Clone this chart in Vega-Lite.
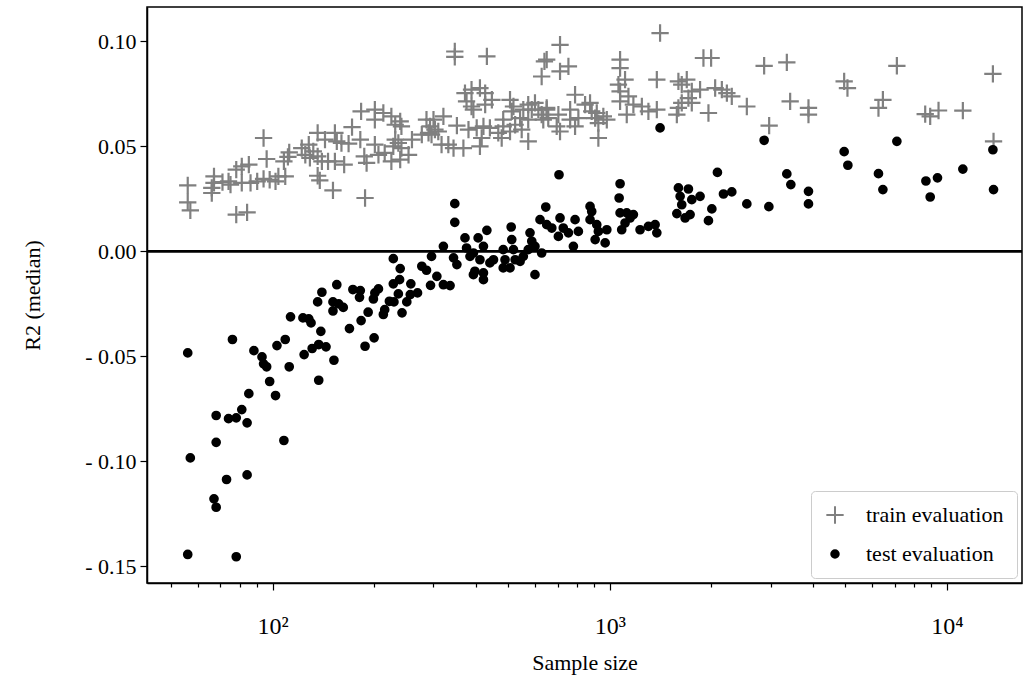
{
  "$schema": "https://vega.github.io/schema/vega-lite/v6.json",
  "width": 875,
  "height": 576,
  "autosize": {"type": "none"},
  "padding": {"left": 147, "top": 7, "right": 2, "bottom": 96},
  "background": "white",
  "config": {
    "view": {"stroke": "black", "strokeWidth": 1.5},
    "font": "Liberation Serif",
    "axis": {
      "grid": false,
      "domainColor": "black",
      "domainWidth": 1.5,
      "tickColor": "black",
      "tickWidth": 1.2,
      "tickSize": 7,
      "labelFont": "Liberation Serif",
      "labelFontSize": 22,
      "labelColor": "black",
      "titleFont": "Liberation Serif",
      "titleFontSize": 22,
      "titleFontWeight": "normal",
      "titleColor": "black"
    },
    "legend": {
      "orient": "bottom-right",
      "offset": 5,
      "title": null,
      "labelFont": "Liberation Serif",
      "labelFontSize": 22,
      "labelColor": "black",
      "fillColor": "white",
      "strokeColor": "#cccccc",
      "cornerRadius": 4,
      "padding": 13,
      "rowPadding": 15,
      "labelOffset": 20,
      "symbolStrokeWidth": 2
    }
  },
  "datasets": {
    "pts": [
      {"series": "train evaluation", "n": 56, "r2": 0.0314},
      {"series": "train evaluation", "n": 56, "r2": 0.0233},
      {"series": "train evaluation", "n": 57, "r2": 0.0195},
      {"series": "train evaluation", "n": 67, "r2": 0.0357},
      {"series": "train evaluation", "n": 67, "r2": 0.0326},
      {"series": "train evaluation", "n": 66, "r2": 0.0302},
      {"series": "train evaluation", "n": 66, "r2": 0.0278},
      {"series": "train evaluation", "n": 71, "r2": 0.0330},
      {"series": "train evaluation", "n": 74, "r2": 0.0333},
      {"series": "train evaluation", "n": 75, "r2": 0.0318},
      {"series": "train evaluation", "n": 78, "r2": 0.0389},
      {"series": "train evaluation", "n": 81, "r2": 0.0405},
      {"series": "train evaluation", "n": 85, "r2": 0.0413},
      {"series": "train evaluation", "n": 81, "r2": 0.0326},
      {"series": "train evaluation", "n": 86, "r2": 0.0326},
      {"series": "train evaluation", "n": 90, "r2": 0.0333},
      {"series": "train evaluation", "n": 94, "r2": 0.0345},
      {"series": "train evaluation", "n": 98, "r2": 0.0341},
      {"series": "train evaluation", "n": 102, "r2": 0.0333},
      {"series": "train evaluation", "n": 104, "r2": 0.0357},
      {"series": "train evaluation", "n": 109, "r2": 0.0357},
      {"series": "train evaluation", "n": 94, "r2": 0.0540},
      {"series": "train evaluation", "n": 96, "r2": 0.0440},
      {"series": "train evaluation", "n": 78, "r2": 0.0175},
      {"series": "train evaluation", "n": 84, "r2": 0.0186},
      {"series": "train evaluation", "n": 108, "r2": 0.0429},
      {"series": "train evaluation", "n": 112, "r2": 0.0471},
      {"series": "train evaluation", "n": 111, "r2": 0.0450},
      {"series": "train evaluation", "n": 122, "r2": 0.0492},
      {"series": "train evaluation", "n": 125, "r2": 0.0460},
      {"series": "train evaluation", "n": 128, "r2": 0.0508},
      {"series": "train evaluation", "n": 129, "r2": 0.0445},
      {"series": "train evaluation", "n": 132, "r2": 0.0476},
      {"series": "train evaluation", "n": 136, "r2": 0.0564},
      {"series": "train evaluation", "n": 136, "r2": 0.0452},
      {"series": "train evaluation", "n": 140, "r2": 0.0429},
      {"series": "train evaluation", "n": 143, "r2": 0.0532},
      {"series": "train evaluation", "n": 146, "r2": 0.0429},
      {"series": "train evaluation", "n": 136, "r2": 0.0360},
      {"series": "train evaluation", "n": 138, "r2": 0.0338},
      {"series": "train evaluation", "n": 151, "r2": 0.0290},
      {"series": "train evaluation", "n": 153, "r2": 0.0564},
      {"series": "train evaluation", "n": 155, "r2": 0.0524},
      {"series": "train evaluation", "n": 160, "r2": 0.0516},
      {"series": "train evaluation", "n": 153, "r2": 0.0429},
      {"series": "train evaluation", "n": 163, "r2": 0.0413},
      {"series": "train evaluation", "n": 172, "r2": 0.0592},
      {"series": "train evaluation", "n": 168, "r2": 0.0513},
      {"series": "train evaluation", "n": 182, "r2": 0.0532},
      {"series": "train evaluation", "n": 183, "r2": 0.0667},
      {"series": "train evaluation", "n": 187, "r2": 0.0452},
      {"series": "train evaluation", "n": 190, "r2": 0.0421},
      {"series": "train evaluation", "n": 188, "r2": 0.0254},
      {"series": "train evaluation", "n": 201, "r2": 0.0675},
      {"series": "train evaluation", "n": 201, "r2": 0.0627},
      {"series": "train evaluation", "n": 213, "r2": 0.0659},
      {"series": "train evaluation", "n": 201, "r2": 0.0508},
      {"series": "train evaluation", "n": 206, "r2": 0.0460},
      {"series": "train evaluation", "n": 215, "r2": 0.0469},
      {"series": "train evaluation", "n": 225, "r2": 0.0643},
      {"series": "train evaluation", "n": 231, "r2": 0.0603},
      {"series": "train evaluation", "n": 225, "r2": 0.0429},
      {"series": "train evaluation", "n": 228, "r2": 0.0500},
      {"series": "train evaluation", "n": 231, "r2": 0.0532},
      {"series": "train evaluation", "n": 347, "r2": 0.0952},
      {"series": "train evaluation", "n": 347, "r2": 0.0926},
      {"series": "train evaluation", "n": 432, "r2": 0.0929},
      {"series": "train evaluation", "n": 628, "r2": 0.0833},
      {"series": "train evaluation", "n": 640, "r2": 0.0905},
      {"series": "train evaluation", "n": 239, "r2": 0.0619},
      {"series": "train evaluation", "n": 241, "r2": 0.0595},
      {"series": "train evaluation", "n": 236, "r2": 0.0516},
      {"series": "train evaluation", "n": 241, "r2": 0.0492},
      {"series": "train evaluation", "n": 239, "r2": 0.0437},
      {"series": "train evaluation", "n": 253, "r2": 0.0460},
      {"series": "train evaluation", "n": 259, "r2": 0.0532},
      {"series": "train evaluation", "n": 277, "r2": 0.0556},
      {"series": "train evaluation", "n": 286, "r2": 0.0627},
      {"series": "train evaluation", "n": 293, "r2": 0.0595},
      {"series": "train evaluation", "n": 300, "r2": 0.0627},
      {"series": "train evaluation", "n": 303, "r2": 0.0580},
      {"series": "train evaluation", "n": 290, "r2": 0.0564},
      {"series": "train evaluation", "n": 296, "r2": 0.0556},
      {"series": "train evaluation", "n": 321, "r2": 0.0643},
      {"series": "train evaluation", "n": 310, "r2": 0.0571},
      {"series": "train evaluation", "n": 317, "r2": 0.0508},
      {"series": "train evaluation", "n": 332, "r2": 0.0508},
      {"series": "train evaluation", "n": 344, "r2": 0.0492},
      {"series": "train evaluation", "n": 368, "r2": 0.0492},
      {"series": "train evaluation", "n": 352, "r2": 0.0599},
      {"series": "train evaluation", "n": 372, "r2": 0.0754},
      {"series": "train evaluation", "n": 389, "r2": 0.0770},
      {"series": "train evaluation", "n": 412, "r2": 0.0778},
      {"series": "train evaluation", "n": 427, "r2": 0.0754},
      {"series": "train evaluation", "n": 447, "r2": 0.0722},
      {"series": "train evaluation", "n": 376, "r2": 0.0714},
      {"series": "train evaluation", "n": 389, "r2": 0.0690},
      {"series": "train evaluation", "n": 394, "r2": 0.0675},
      {"series": "train evaluation", "n": 427, "r2": 0.0699},
      {"series": "train evaluation", "n": 381, "r2": 0.0580},
      {"series": "train evaluation", "n": 403, "r2": 0.0588},
      {"series": "train evaluation", "n": 422, "r2": 0.0595},
      {"series": "train evaluation", "n": 441, "r2": 0.0588},
      {"series": "train evaluation", "n": 417, "r2": 0.0540},
      {"series": "train evaluation", "n": 412, "r2": 0.0500},
      {"series": "train evaluation", "n": 506, "r2": 0.0722},
      {"series": "train evaluation", "n": 518, "r2": 0.0690},
      {"series": "train evaluation", "n": 512, "r2": 0.0667},
      {"series": "train evaluation", "n": 483, "r2": 0.0627},
      {"series": "train evaluation", "n": 483, "r2": 0.0595},
      {"series": "train evaluation", "n": 467, "r2": 0.0564},
      {"series": "train evaluation", "n": 478, "r2": 0.0540},
      {"series": "train evaluation", "n": 506, "r2": 0.0571},
      {"series": "train evaluation", "n": 524, "r2": 0.0603},
      {"series": "train evaluation", "n": 542, "r2": 0.0635},
      {"series": "train evaluation", "n": 554, "r2": 0.0675},
      {"series": "train evaluation", "n": 573, "r2": 0.0699},
      {"series": "train evaluation", "n": 587, "r2": 0.0675},
      {"series": "train evaluation", "n": 600, "r2": 0.0707},
      {"series": "train evaluation", "n": 614, "r2": 0.0675},
      {"series": "train evaluation", "n": 628, "r2": 0.0651},
      {"series": "train evaluation", "n": 573, "r2": 0.0627},
      {"series": "train evaluation", "n": 548, "r2": 0.0580},
      {"series": "train evaluation", "n": 573, "r2": 0.0524},
      {"series": "train evaluation", "n": 650, "r2": 0.0675},
      {"series": "train evaluation", "n": 635, "r2": 0.0627},
      {"series": "train evaluation", "n": 1410, "r2": 0.1040},
      {"series": "train evaluation", "n": 712, "r2": 0.0984},
      {"series": "train evaluation", "n": 650, "r2": 0.0913},
      {"series": "train evaluation", "n": 754, "r2": 0.0881},
      {"series": "train evaluation", "n": 712, "r2": 0.0857},
      {"series": "train evaluation", "n": 1073, "r2": 0.0913},
      {"series": "train evaluation", "n": 1073, "r2": 0.0873},
      {"series": "train evaluation", "n": 1110, "r2": 0.0818},
      {"series": "train evaluation", "n": 1061, "r2": 0.0794},
      {"series": "train evaluation", "n": 1073, "r2": 0.0762},
      {"series": "train evaluation", "n": 1073, "r2": 0.0714},
      {"series": "train evaluation", "n": 1136, "r2": 0.0738},
      {"series": "train evaluation", "n": 1175, "r2": 0.0699},
      {"series": "train evaluation", "n": 1123, "r2": 0.0651},
      {"series": "train evaluation", "n": 1245, "r2": 0.0690},
      {"series": "train evaluation", "n": 1302, "r2": 0.0667},
      {"series": "train evaluation", "n": 1379, "r2": 0.0675},
      {"series": "train evaluation", "n": 1379, "r2": 0.0818},
      {"series": "train evaluation", "n": 1598, "r2": 0.0810},
      {"series": "train evaluation", "n": 1635, "r2": 0.0794},
      {"series": "train evaluation", "n": 1692, "r2": 0.0818},
      {"series": "train evaluation", "n": 1751, "r2": 0.0762},
      {"series": "train evaluation", "n": 1853, "r2": 0.0770},
      {"series": "train evaluation", "n": 1711, "r2": 0.0730},
      {"series": "train evaluation", "n": 1598, "r2": 0.0683},
      {"series": "train evaluation", "n": 1581, "r2": 0.0651},
      {"series": "train evaluation", "n": 1635, "r2": 0.0707},
      {"series": "train evaluation", "n": 1751, "r2": 0.0707},
      {"series": "train evaluation", "n": 789, "r2": 0.0746},
      {"series": "train evaluation", "n": 650, "r2": 0.0683},
      {"series": "train evaluation", "n": 657, "r2": 0.0635},
      {"series": "train evaluation", "n": 704, "r2": 0.0651},
      {"series": "train evaluation", "n": 696, "r2": 0.0595},
      {"series": "train evaluation", "n": 712, "r2": 0.0571},
      {"series": "train evaluation", "n": 763, "r2": 0.0675},
      {"series": "train evaluation", "n": 763, "r2": 0.0627},
      {"series": "train evaluation", "n": 789, "r2": 0.0595},
      {"series": "train evaluation", "n": 807, "r2": 0.0635},
      {"series": "train evaluation", "n": 845, "r2": 0.0699},
      {"series": "train evaluation", "n": 874, "r2": 0.0707},
      {"series": "train evaluation", "n": 884, "r2": 0.0667},
      {"series": "train evaluation", "n": 915, "r2": 0.0659},
      {"series": "train evaluation", "n": 905, "r2": 0.0635},
      {"series": "train evaluation", "n": 925, "r2": 0.0611},
      {"series": "train evaluation", "n": 957, "r2": 0.0643},
      {"series": "train evaluation", "n": 980, "r2": 0.0627},
      {"series": "train evaluation", "n": 925, "r2": 0.0540},
      {"series": "train evaluation", "n": 1998, "r2": 0.0921},
      {"series": "train evaluation", "n": 1896, "r2": 0.0921},
      {"series": "train evaluation", "n": 2054, "r2": 0.0778},
      {"series": "train evaluation", "n": 2150, "r2": 0.0770},
      {"series": "train evaluation", "n": 2225, "r2": 0.0754},
      {"series": "train evaluation", "n": 2301, "r2": 0.0738},
      {"series": "train evaluation", "n": 1962, "r2": 0.0659},
      {"series": "train evaluation", "n": 2550, "r2": 0.0690},
      {"series": "train evaluation", "n": 2870, "r2": 0.0884},
      {"series": "train evaluation", "n": 3351, "r2": 0.0900},
      {"series": "train evaluation", "n": 3428, "r2": 0.0714},
      {"series": "train evaluation", "n": 2970, "r2": 0.0599},
      {"series": "train evaluation", "n": 3885, "r2": 0.0683},
      {"series": "train evaluation", "n": 3885, "r2": 0.0651},
      {"series": "train evaluation", "n": 4957, "r2": 0.0810},
      {"series": "train evaluation", "n": 5070, "r2": 0.0778},
      {"series": "train evaluation", "n": 7105, "r2": 0.0884},
      {"series": "train evaluation", "n": 6458, "r2": 0.0722},
      {"series": "train evaluation", "n": 6266, "r2": 0.0683},
      {"series": "train evaluation", "n": 8622, "r2": 0.0654},
      {"series": "train evaluation", "n": 8921, "r2": 0.0643},
      {"series": "train evaluation", "n": 9444, "r2": 0.0671},
      {"series": "train evaluation", "n": 11150, "r2": 0.0670},
      {"series": "train evaluation", "n": 13690, "r2": 0.0845},
      {"series": "train evaluation", "n": 13750, "r2": 0.0524},
      {"series": "test evaluation", "n": 56, "r2": -0.0484},
      {"series": "test evaluation", "n": 57, "r2": -0.0984},
      {"series": "test evaluation", "n": 56, "r2": -0.1444},
      {"series": "test evaluation", "n": 76, "r2": -0.0420},
      {"series": "test evaluation", "n": 68, "r2": -0.0782},
      {"series": "test evaluation", "n": 68, "r2": -0.0910},
      {"series": "test evaluation", "n": 67, "r2": -0.1179},
      {"series": "test evaluation", "n": 68, "r2": -0.1219},
      {"series": "test evaluation", "n": 73, "r2": -0.1087},
      {"series": "test evaluation", "n": 78, "r2": -0.1455},
      {"series": "test evaluation", "n": 74, "r2": -0.0797},
      {"series": "test evaluation", "n": 78, "r2": -0.0793},
      {"series": "test evaluation", "n": 81, "r2": -0.0754},
      {"series": "test evaluation", "n": 84, "r2": -0.0817},
      {"series": "test evaluation", "n": 85, "r2": -0.0678},
      {"series": "test evaluation", "n": 84, "r2": -0.1065},
      {"series": "test evaluation", "n": 88, "r2": -0.0473},
      {"series": "test evaluation", "n": 93, "r2": -0.0503},
      {"series": "test evaluation", "n": 94, "r2": -0.0536},
      {"series": "test evaluation", "n": 96, "r2": -0.0550},
      {"series": "test evaluation", "n": 98, "r2": -0.0620},
      {"series": "test evaluation", "n": 102, "r2": -0.0687},
      {"series": "test evaluation", "n": 108, "r2": -0.0901},
      {"series": "test evaluation", "n": 103, "r2": -0.0449},
      {"series": "test evaluation", "n": 109, "r2": -0.0420},
      {"series": "test evaluation", "n": 112, "r2": -0.0550},
      {"series": "test evaluation", "n": 113, "r2": -0.0312},
      {"series": "test evaluation", "n": 123, "r2": -0.0317},
      {"series": "test evaluation", "n": 128, "r2": -0.0322},
      {"series": "test evaluation", "n": 130, "r2": -0.0341},
      {"series": "test evaluation", "n": 139, "r2": -0.0381},
      {"series": "test evaluation", "n": 124, "r2": -0.0492},
      {"series": "test evaluation", "n": 131, "r2": -0.0463},
      {"series": "test evaluation", "n": 137, "r2": -0.0444},
      {"series": "test evaluation", "n": 144, "r2": -0.0455},
      {"series": "test evaluation", "n": 152, "r2": -0.0519},
      {"series": "test evaluation", "n": 137, "r2": -0.0614},
      {"series": "test evaluation", "n": 136, "r2": -0.0241},
      {"series": "test evaluation", "n": 140, "r2": -0.0195},
      {"series": "test evaluation", "n": 155, "r2": -0.0159},
      {"series": "test evaluation", "n": 151, "r2": -0.0241},
      {"series": "test evaluation", "n": 157, "r2": -0.0250},
      {"series": "test evaluation", "n": 162, "r2": -0.0267},
      {"series": "test evaluation", "n": 151, "r2": -0.0284},
      {"series": "test evaluation", "n": 169, "r2": -0.0368},
      {"series": "test evaluation", "n": 173, "r2": -0.0182},
      {"series": "test evaluation", "n": 182, "r2": -0.0187},
      {"series": "test evaluation", "n": 181, "r2": -0.0219},
      {"series": "test evaluation", "n": 183, "r2": -0.0330},
      {"series": "test evaluation", "n": 192, "r2": -0.0290},
      {"series": "test evaluation", "n": 188, "r2": -0.0452},
      {"series": "test evaluation", "n": 200, "r2": -0.0412},
      {"series": "test evaluation", "n": 199, "r2": -0.0227},
      {"series": "test evaluation", "n": 201, "r2": -0.0198},
      {"series": "test evaluation", "n": 206, "r2": -0.0179},
      {"series": "test evaluation", "n": 213, "r2": -0.0301},
      {"series": "test evaluation", "n": 215, "r2": -0.0278},
      {"series": "test evaluation", "n": 222, "r2": -0.0238},
      {"series": "test evaluation", "n": 228, "r2": -0.0035},
      {"series": "test evaluation", "n": 239, "r2": -0.0082},
      {"series": "test evaluation", "n": 238, "r2": -0.0135},
      {"series": "test evaluation", "n": 228, "r2": -0.0155},
      {"series": "test evaluation", "n": 236, "r2": -0.0203},
      {"series": "test evaluation", "n": 229, "r2": -0.0241},
      {"series": "test evaluation", "n": 242, "r2": -0.0293},
      {"series": "test evaluation", "n": 250, "r2": -0.0241},
      {"series": "test evaluation", "n": 256, "r2": -0.0206},
      {"series": "test evaluation", "n": 257, "r2": -0.0155},
      {"series": "test evaluation", "n": 269, "r2": -0.0198},
      {"series": "test evaluation", "n": 277, "r2": -0.0071},
      {"series": "test evaluation", "n": 286, "r2": -0.0090},
      {"series": "test evaluation", "n": 296, "r2": -0.0024},
      {"series": "test evaluation", "n": 294, "r2": -0.0162},
      {"series": "test evaluation", "n": 307, "r2": -0.0119},
      {"series": "test evaluation", "n": 321, "r2": 0.0024},
      {"series": "test evaluation", "n": 321, "r2": -0.0159},
      {"series": "test evaluation", "n": 336, "r2": -0.0163},
      {"series": "test evaluation", "n": 344, "r2": -0.0031},
      {"series": "test evaluation", "n": 352, "r2": -0.0063},
      {"series": "test evaluation", "n": 347, "r2": 0.0227},
      {"series": "test evaluation", "n": 347, "r2": 0.0138},
      {"series": "test evaluation", "n": 372, "r2": 0.0064},
      {"series": "test evaluation", "n": 376, "r2": 0.0016},
      {"series": "test evaluation", "n": 385, "r2": -0.0024},
      {"series": "test evaluation", "n": 394, "r2": -0.0008},
      {"series": "test evaluation", "n": 398, "r2": -0.0095},
      {"series": "test evaluation", "n": 394, "r2": -0.0111},
      {"series": "test evaluation", "n": 422, "r2": 0.0024},
      {"series": "test evaluation", "n": 407, "r2": 0.0064},
      {"series": "test evaluation", "n": 432, "r2": 0.0100},
      {"series": "test evaluation", "n": 412, "r2": -0.0040},
      {"series": "test evaluation", "n": 422, "r2": -0.0103},
      {"series": "test evaluation", "n": 422, "r2": -0.0135},
      {"series": "test evaluation", "n": 441, "r2": -0.0055},
      {"series": "test evaluation", "n": 452, "r2": -0.0040},
      {"series": "test evaluation", "n": 483, "r2": 0.0008},
      {"series": "test evaluation", "n": 483, "r2": -0.0079},
      {"series": "test evaluation", "n": 489, "r2": -0.0040},
      {"series": "test evaluation", "n": 510, "r2": 0.0116},
      {"series": "test evaluation", "n": 512, "r2": 0.0056},
      {"series": "test evaluation", "n": 518, "r2": 0.0008},
      {"series": "test evaluation", "n": 524, "r2": -0.0040},
      {"series": "test evaluation", "n": 506, "r2": -0.0079},
      {"series": "test evaluation", "n": 542, "r2": -0.0048},
      {"series": "test evaluation", "n": 554, "r2": -0.0024},
      {"series": "test evaluation", "n": 573, "r2": 0.0008},
      {"series": "test evaluation", "n": 580, "r2": 0.0088},
      {"series": "test evaluation", "n": 587, "r2": 0.0048},
      {"series": "test evaluation", "n": 600, "r2": 0.0024},
      {"series": "test evaluation", "n": 600, "r2": -0.0111},
      {"series": "test evaluation", "n": 621, "r2": 0.0151},
      {"series": "test evaluation", "n": 628, "r2": -0.0008},
      {"series": "test evaluation", "n": 646, "r2": 0.0211},
      {"series": "test evaluation", "n": 650, "r2": 0.0127},
      {"series": "test evaluation", "n": 1410, "r2": 0.0588},
      {"series": "test evaluation", "n": 707, "r2": 0.0365},
      {"series": "test evaluation", "n": 1073, "r2": 0.0322},
      {"series": "test evaluation", "n": 1066, "r2": 0.0254},
      {"series": "test evaluation", "n": 1073, "r2": 0.0183},
      {"series": "test evaluation", "n": 1085, "r2": 0.0103},
      {"series": "test evaluation", "n": 1123, "r2": 0.0183},
      {"series": "test evaluation", "n": 1149, "r2": 0.0159},
      {"series": "test evaluation", "n": 1175, "r2": 0.0175},
      {"series": "test evaluation", "n": 1110, "r2": 0.0135},
      {"series": "test evaluation", "n": 673, "r2": 0.0111},
      {"series": "test evaluation", "n": 712, "r2": 0.0159},
      {"series": "test evaluation", "n": 704, "r2": 0.0071},
      {"series": "test evaluation", "n": 728, "r2": 0.0111},
      {"series": "test evaluation", "n": 754, "r2": 0.0088},
      {"series": "test evaluation", "n": 780, "r2": 0.0024},
      {"series": "test evaluation", "n": 789, "r2": 0.0151},
      {"series": "test evaluation", "n": 807, "r2": 0.0095},
      {"series": "test evaluation", "n": 874, "r2": 0.0214},
      {"series": "test evaluation", "n": 884, "r2": 0.0190},
      {"series": "test evaluation", "n": 874, "r2": 0.0151},
      {"series": "test evaluation", "n": 915, "r2": 0.0127},
      {"series": "test evaluation", "n": 925, "r2": 0.0095},
      {"series": "test evaluation", "n": 905, "r2": 0.0056},
      {"series": "test evaluation", "n": 969, "r2": 0.0040},
      {"series": "test evaluation", "n": 980, "r2": 0.0103},
      {"series": "test evaluation", "n": 1230, "r2": 0.0103},
      {"series": "test evaluation", "n": 1302, "r2": 0.0119},
      {"series": "test evaluation", "n": 1363, "r2": 0.0127},
      {"series": "test evaluation", "n": 1379, "r2": 0.0088},
      {"series": "test evaluation", "n": 1598, "r2": 0.0302},
      {"series": "test evaluation", "n": 1711, "r2": 0.0297},
      {"series": "test evaluation", "n": 1617, "r2": 0.0262},
      {"series": "test evaluation", "n": 1751, "r2": 0.0246},
      {"series": "test evaluation", "n": 1853, "r2": 0.0262},
      {"series": "test evaluation", "n": 1635, "r2": 0.0222},
      {"series": "test evaluation", "n": 1581, "r2": 0.0180},
      {"series": "test evaluation", "n": 1731, "r2": 0.0175},
      {"series": "test evaluation", "n": 1673, "r2": 0.0159},
      {"series": "test evaluation", "n": 2870, "r2": 0.0529},
      {"series": "test evaluation", "n": 2086, "r2": 0.0376},
      {"series": "test evaluation", "n": 2008, "r2": 0.0202},
      {"series": "test evaluation", "n": 1962, "r2": 0.0146},
      {"series": "test evaluation", "n": 2174, "r2": 0.0273},
      {"series": "test evaluation", "n": 2301, "r2": 0.0283},
      {"series": "test evaluation", "n": 2550, "r2": 0.0226},
      {"series": "test evaluation", "n": 2964, "r2": 0.0213},
      {"series": "test evaluation", "n": 3351, "r2": 0.0369},
      {"series": "test evaluation", "n": 3444, "r2": 0.0318},
      {"series": "test evaluation", "n": 3885, "r2": 0.0286},
      {"series": "test evaluation", "n": 3885, "r2": 0.0226},
      {"series": "test evaluation", "n": 4957, "r2": 0.0475},
      {"series": "test evaluation", "n": 5084, "r2": 0.0410},
      {"series": "test evaluation", "n": 7105, "r2": 0.0524},
      {"series": "test evaluation", "n": 6266, "r2": 0.0370},
      {"series": "test evaluation", "n": 6458, "r2": 0.0294},
      {"series": "test evaluation", "n": 8664, "r2": 0.0335},
      {"series": "test evaluation", "n": 9377, "r2": 0.0350},
      {"series": "test evaluation", "n": 8921, "r2": 0.0259},
      {"series": "test evaluation", "n": 11150, "r2": 0.0392},
      {"series": "test evaluation", "n": 13690, "r2": 0.0484},
      {"series": "test evaluation", "n": 13750, "r2": 0.0294}
    ]
  },
  "layer": [
    {
      "data": {"name": "pts"},
      "mark": {"type": "point", "filled": true, "strokeWidth": 2.2, "opacity": 1},
      "encoding": {
        "x": {
          "field": "n",
          "type": "quantitative",
          "scale": {"type": "log", "domain": [42.4, 16700], "nice": false},
          "title": "Sample size",
          "axis": {
            "values": [50, 60, 70, 80, 90, 100, 200, 300, 400, 500, 600, 700, 800, 900, 1000, 2000, 3000, 4000, 5000, 6000, 7000, 8000, 9000, 10000],
            "labelExpr": "datum.value == 100 ? '10²' : datum.value == 1000 ? '10³' : datum.value == 10000 ? '10⁴' : ''",
            "tickSize": {"condition": {"test": "datum.value == 100 || datum.value == 1000 || datum.value == 10000", "value": 7}, "value": 4},
            "labelPadding": 24,
            "labelFontSize": 24,
            "titlePadding": 14
          }
        },
        "y": {
          "field": "r2",
          "type": "quantitative",
          "scale": {"domain": [-0.158, 0.1164], "nice": false, "zero": false},
          "title": "R2 (median)",
          "axis": {
            "values": [-0.15, -0.1, -0.05, 0, 0.05, 0.1],
            "labelExpr": "datum.value < 0 ? '- ' + format(-datum.value, '.2f') : format(datum.value, '.2f')",
            "labelPadding": 4,
            "titlePadding": 40
          }
        },
        "shape": {
          "field": "series",
          "type": "nominal",
          "scale": {"domain": ["train evaluation", "test evaluation"], "range": ["M-1,0L1,0M0,-1L0,1", "circle"]}
        },
        "fill": {
          "field": "series",
          "type": "nominal",
          "scale": {"domain": ["train evaluation", "test evaluation"], "range": ["#808080", "#000000"]}
        },
        "stroke": {
          "field": "series",
          "type": "nominal",
          "scale": {"domain": ["train evaluation", "test evaluation"], "range": ["#808080", "#000000"]}
        },
        "size": {
          "field": "series",
          "type": "nominal",
          "scale": {"domain": ["train evaluation", "test evaluation"], "range": [300, 56]}
        }
      }
    },
    {
      "data": {"values": [{}]},
      "mark": {"type": "rule", "color": "black", "strokeWidth": 2.6},
      "encoding": {"y": {"datum": 0}}
    }
  ]
}
